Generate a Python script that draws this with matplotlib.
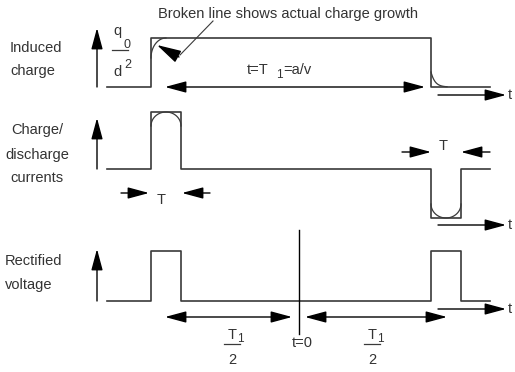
import numpy as np
import matplotlib
matplotlib.use("Agg")
import matplotlib.pyplot as plt
from matplotlib.patches import FancyArrowPatch

plt.rcParams['font.family'] = ['Liberation Sans', 'DejaVu Sans']

# diagram coordinates (time axis runs left to right, levels top to bottom)
edges = [151, 181, 431, 461]          # pulse edges
x_start, x_end = 107, 490             # trace extent
t_zero = 299                          # position of t=0 marker

# induced charge trace (x, y)
charge_x = [x_start, edges[0], edges[0], edges[2], edges[2], x_end]
charge_y = [87, 87, 38, 38, 87, 87]

# charge/discharge current trace
current_x = [x_start, edges[0], edges[0], edges[1], edges[1], edges[2], edges[2], edges[3], edges[3], x_end]
current_y = [169, 169, 112, 112, 169, 169, 218, 218, 169, 169]

# rectified voltage trace
volt_x = [x_start, edges[0], edges[0], edges[1], edges[1], edges[2], edges[2], edges[3], edges[3], x_end]
volt_y = [301, 301, 251, 251, 301, 301, 251, 251, 301, 301]

# panel levels: axis arrow bottom/top, time arrow height
panel_axis = [(87, 28), (169, 118), (301, 249)]
time_arrow_y = [95, 225, 309]

LINE = '#3a3a3a'
TEXT = '#333333'
FS = 10.5

fig = plt.figure(figsize=(5.15, 3.72), dpi=100)
ax = fig.add_axes([0, 0, 1, 1])
ax.set_xlim(0, 515)
ax.set_ylim(372, 0)
ax.axis('off')


def arrow(p0, p1, both=False, hl=1.3, hw=0.35):
    style = '<|-|>' if both else '-|>'
    a = FancyArrowPatch(p0, p1, arrowstyle=f'{style},head_length={hl},head_width={hw}',
                        mutation_scale=10, color='black', lw=1.0,
                        shrinkA=0, shrinkB=0)
    ax.add_patch(a)


def txt(x, y, s, size=FS, ha='left'):
    ax.text(x, y, s, fontsize=size, color=TEXT, ha=ha, va='center')


# traces
ax.plot(charge_x, charge_y, color=LINE, lw=1.2)
ax.plot(current_x, current_y, color=LINE, lw=1.2)
ax.plot(volt_x, volt_y, color=LINE, lw=1.2)

# actual charge growth and decay
th = np.linspace(np.pi, np.pi / 2, 30)
ax.plot(edges[0] + 15 + 15 * np.cos(th), 58 - 20 * np.sin(th), color=LINE, lw=0.9)
xd = np.linspace(edges[2], edges[2] + 16, 30)
ax.plot(xd, 87 - 15 * np.exp(-(xd - edges[2]) / 4.0), color=LINE, lw=0.9)

# rounded current pulses
th = np.linspace(0, np.pi, 40)
ax.plot(edges[0] + 15 - 15 * np.cos(th), 126 - 14 * np.sin(th), color=LINE, lw=0.9)
ax.plot(edges[2] + 15 - 15 * np.cos(th), 204 + 14 * np.sin(th), color=LINE, lw=0.9)

# vertical axis arrows and time arrows
for (yb, yt), ty in zip(panel_axis, time_arrow_y):
    arrow((97, yb), (97, yt))
    arrow((438, ty), (506, ty))
    txt(508, ty, 't')

# T1 = a/v span
arrow((165, 87), (425, 87), both=True)
txt(247, 70, 't=T')
txt(276, 75, '1', size=8.5)
txt(283, 70, '=a/v')

# pointer for broken line note
txt(158, 14, 'Broken line shows actual charge growth')
ax.plot([213, 180], [21, 55], color=LINE, lw=0.8)
arrow((179, 57), (157, 45), hl=1.5, hw=0.4)

# q0/d2
txt(113, 31, 'q')
txt(123, 45, '0', size=9)
ax.plot([112, 128], [50, 50], color=LINE, lw=0.9)
txt(113, 72, 'd')
txt(124, 65, '2', size=9)

# pulse width T
arrow((121, 193), (149, 193))
arrow((210, 193), (182, 193))
txt(161, 200, 'T', ha='center')
arrow((402, 152), (431, 152))
arrow((490, 152), (461, 152))
txt(443, 146, 'T', ha='center')

# t = 0 marker and half periods
ax.plot([t_zero, t_zero], [230, 334], color='black', lw=1.0)
arrow((165, 317), (292, 317), both=True)
arrow((305, 317), (447, 317), both=True)
txt(302, 343, 't=0', ha='center')
for cx in [232, 372]:
    txt(cx, 335, 'T', ha='center')
    txt(cx + 5, 339, '1', size=8.5)
    ax.plot([cx - 8, cx + 8], [344, 344], color=LINE, lw=0.9)
    txt(cx, 360, '2', ha='center')

# panel labels
txt(10, 48, 'Induced')
txt(10, 71, 'charge')
txt(37, 130, 'Charge/', ha='center')
txt(37, 155, 'discharge', ha='center')
txt(37, 178, 'currents', ha='center')
txt(5, 261, 'Rectified')
txt(5, 285, 'voltage')

fig.savefig('out.png', dpi=100)
